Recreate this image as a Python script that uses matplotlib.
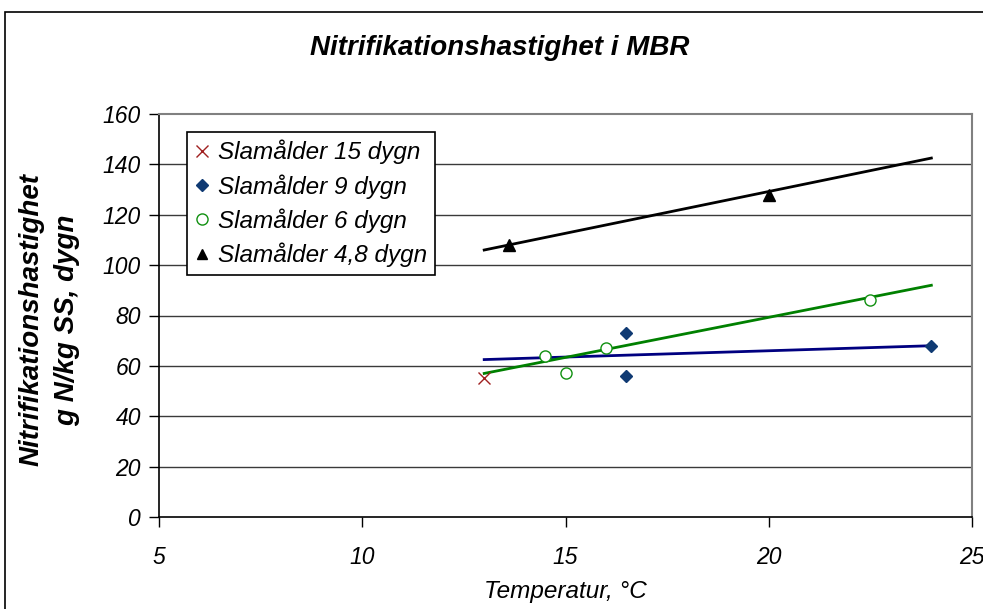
import matplotlib
matplotlib.use("Agg")
import matplotlib.pyplot as plt
from matplotlib.patches import Rectangle
from matplotlib.lines import Line2D

plt.rcParams['font.family'] = ['Liberation Sans', 'DejaVu Sans']

# Data
x15 = [13.0]
y15 = [55.0]
x9 = [16.5, 16.5, 24.0]
y9 = [73.0, 56.0, 68.0]
x6 = [14.5, 15.0, 16.0, 22.5]
y6 = [64.0, 57.0, 67.0, 86.0]
x48 = [13.6, 20.0]
y48 = [108.0, 128.0]

# Trend lines (endpoint values)
trend_x = [13.0, 24.0]
trend9_y = [62.5, 68.0]
trend6_y = [57.0, 92.0]
trend48_y = [106.0, 142.5]

labels = ["Slamålder 15 dygn", "Slamålder 9 dygn", "Slamålder 6 dygn", "Slamålder 4,8 dygn"]
xticks = [5, 10, 15, 20, 25]
yticks = [0, 20, 40, 60, 80, 100, 120, 140, 160]

fig = plt.figure(figsize=(9.83, 6.09), dpi=100)
ax = fig.add_axes([159/983, 1-517/609, (972-159)/983, (517-114)/609])

# Figure border (extends past right and bottom edge)
fig.patches.append(Rectangle((5/983, -0.2), 1.2, (609-12)/609 + 0.2, transform=fig.transFigure,
                             fill=False, edgecolor='black', linewidth=1.2, zorder=0))

# Grid
for yv in yticks[1:-1]:
    ax.axhline(yv, color='#3a3a3a', linewidth=1.0, zorder=1)

# Trend lines
ax.plot(trend_x, trend9_y, color='#000080', linewidth=2.0, zorder=2)
ax.plot(trend_x, trend6_y, color='#008000', linewidth=2.0, zorder=2)
ax.plot(trend_x, trend48_y, color='black', linewidth=2.0, zorder=2)

# Points
ax.plot(x15, y15, linestyle='none', marker='x', color='#A02020', markersize=8, markeredgewidth=1.0, zorder=3)
ax.plot(x9, y9, linestyle='none', marker='D', color='#0F3A73', markersize=6.5, zorder=3)
ax.plot(x6, y6, linestyle='none', marker='o', markerfacecolor='white', markeredgecolor='#109010',
        markersize=8, markeredgewidth=1.0, zorder=3)
ax.plot(x48, y48, linestyle='none', marker='^', color='black', markersize=8, zorder=3)

ax.set_xlim(5, 25)
ax.set_ylim(0, 160)
ax.set_xticks(xticks)
ax.set_yticks(yticks)
ax.set_xticklabels([str(v) for v in xticks], fontsize=16.5, style='italic')
ax.set_yticklabels([str(v) for v in yticks], fontsize=16.5, style='italic')
ax.tick_params(axis='both', direction='out', length=7, width=1.0, color='black')
ax.tick_params(axis='x', pad=14)
ax.tick_params(axis='y', pad=6)

for s in ['top', 'right']:
    ax.spines[s].set_color('#808080')
    ax.spines[s].set_linewidth(1.5)
for s in ['left', 'bottom']:
    ax.spines[s].set_color('black')
    ax.spines[s].set_linewidth(1.2)

ax.set_xlabel("Temperatur, °C", fontsize=17.5, style='italic', labelpad=8)
fig.text(32/983, 1-320/609, "Nitrifikationshastighet", rotation=90, fontsize=20,
         fontweight='bold', style='italic', ha='center', va='center')
fig.text(67/983, 1-320/609, "g N/kg SS, dygn", rotation=90, fontsize=20,
         fontweight='bold', style='italic', ha='center', va='center')

fig.text(500/983, 1-48/609, "Nitrifikationshastighet i MBR", fontsize=20, fontweight='bold',
         style='italic', ha='center', va='center')

handles = [
    Line2D([], [], linestyle='none', marker='x', color='#A02020', markersize=8, markeredgewidth=1.0),
    Line2D([], [], linestyle='none', marker='D', color='#0F3A73', markersize=6),
    Line2D([], [], linestyle='none', marker='o', markerfacecolor='white', markeredgecolor='#109010',
           markersize=8, markeredgewidth=1.0),
    Line2D([], [], linestyle='none', marker='^', color='black', markersize=7.5),
]
leg = ax.legend(handles, labels, loc='upper left',
                bbox_to_anchor=((187-159)/813, (517-132)/403), borderaxespad=0,
                prop={'size': 17.5, 'style': 'italic'}, frameon=True, fancybox=False,
                framealpha=1, edgecolor='black', handlelength=0.6, handletextpad=0.35,
                labelspacing=0.4, borderpad=0.32)
leg.get_frame().set_linewidth(1.2)
leg.set_zorder(5)

fig.savefig("out.png", dpi=100)
